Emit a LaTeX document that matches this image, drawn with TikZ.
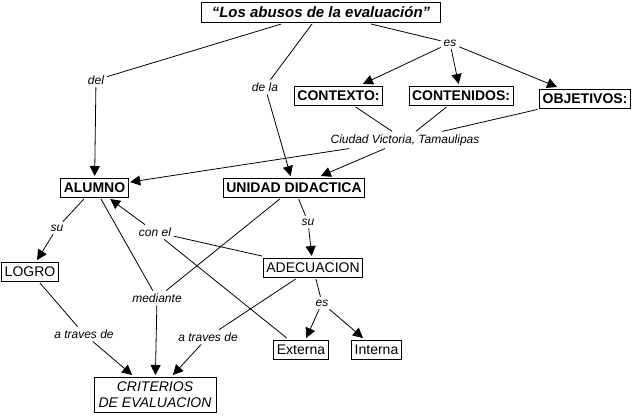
\documentclass[tikz,border=0pt]{standalone}
\usepackage{fontspec}
\setmainfont{Liberation Sans}
\usetikzlibrary{arrows.meta}
\begin{document}
\begin{tikzpicture}[x=1pt,y=-1pt,
  concept/.style={draw=black,line width=0.8pt,inner xsep=3pt,inner ysep=0pt,text height=10pt,text depth=0pt,minimum height=19pt,outer sep=2pt,font=\fontsize{14}{16}\selectfont\bfseries},
  plain/.style={concept,font=\fontsize{14}{16}\selectfont},
  link/.style={inner sep=2pt,outer sep=1pt,font=\fontsize{12}{14}\selectfont\itshape},
  conn/.style={line width=0.8pt},
  arr/.style={conn,-{Triangle[length=10pt,width=10pt]}}]
\useasboundingbox (0,0) rectangle (636,415);

\node[concept,font=\fontsize{15}{18}\selectfont\bfseries\itshape,text height=11pt,minimum width=239pt,minimum height=20pt] (titulo) at (321,12) {“Los abusos de la evaluación”};
\node[link] (es1) at (450,43) {es};
\node[concept] (contexto) at (338.5,95.5) {CONTEXTO:};
\node[concept] (contenidos) at (461,95.5) {CONTENIDOS:};
\node[concept] (objetivos) at (585,98.5) {OBJETIVOS:};
\node[link] (del) at (96,80) {del};
\node[link] (dela) at (265,87) {de la};
\node[link] (ciudad) at (405,140) {Ciudad Victoria, Tamaulipas};
\node[concept] (alumno) at (94.5,187.5) {ALUMNO};
\node[concept] (unidad) at (294,187.5) {UNIDAD DIDACTICA};
\node[link] (su1) at (57,228) {su};
\node[link] (su2) at (308,222) {su};
\node[link] (conel) at (155,232) {con el};
\node[plain] (logro) at (30,271.5) {LOGRO};
\node[plain] (adecuacion) at (313,267.5) {ADECUACION};
\node[link] (mediante) at (157,298) {mediante};
\node[link] (es2) at (322,303) {es};
\node[link] (atraves1) at (84,334) {a traves de};
\node[link] (atraves2) at (208,337) {a traves de};
\node[plain] (externa) at (301,349.5) {Externa};
\node[plain] (interna) at (376.5,349.5) {Interna};
\node[draw=black,line width=0.8pt,align=center,inner sep=0pt,outer sep=2pt,minimum width=122pt,minimum height=35pt,font=\fontsize{14}{16.5}\selectfont\itshape] (criterios) at (155,394.5) {CRITERIOS\\DE EVALUACION};

% titulo
\path [conn] (titulo) edge (del);
\path [arr] (del) edge (alumno);
\path [conn] (titulo) edge (dela);
\path [arr] (dela) edge (unidad);
\path [conn] (titulo) edge (es1);
\path [arr] (es1) edge (contexto);
\path [arr] (es1) edge (contenidos);
\path [arr] (es1) edge (objetivos);
% contexto
\path [conn] (contexto) edge (ciudad);
\path [conn] (contenidos) edge (ciudad);
\path [conn] (objetivos) edge (ciudad);
\path [arr] (ciudad) edge (alumno);
\path [arr] (ciudad) edge (unidad);
% alumno
\path [conn] (alumno) edge (su1);
\path [arr] (su1) edge (logro);
\path [conn] (alumno) edge (mediante);
\path [conn] (unidad) edge (mediante);
\path [arr] (mediante) edge (criterios);
\path [conn] (logro) edge (atraves1);
\path [arr] (atraves1) edge (criterios);
% unidad
\path [conn] (unidad) edge (su2);
\path [arr] (su2) edge (adecuacion);
\path [conn] (adecuacion) edge (conel);
\path [conn] (externa) edge (conel);
\path [arr] (conel) edge (alumno);
\path [conn] (adecuacion) edge (atraves2);
\path [arr] (atraves2) edge (criterios);
\path [conn] (adecuacion) edge (es2);
\path [arr] (es2) edge (externa);
\path [arr] (es2) edge (interna);
\end{tikzpicture}
\end{document}
